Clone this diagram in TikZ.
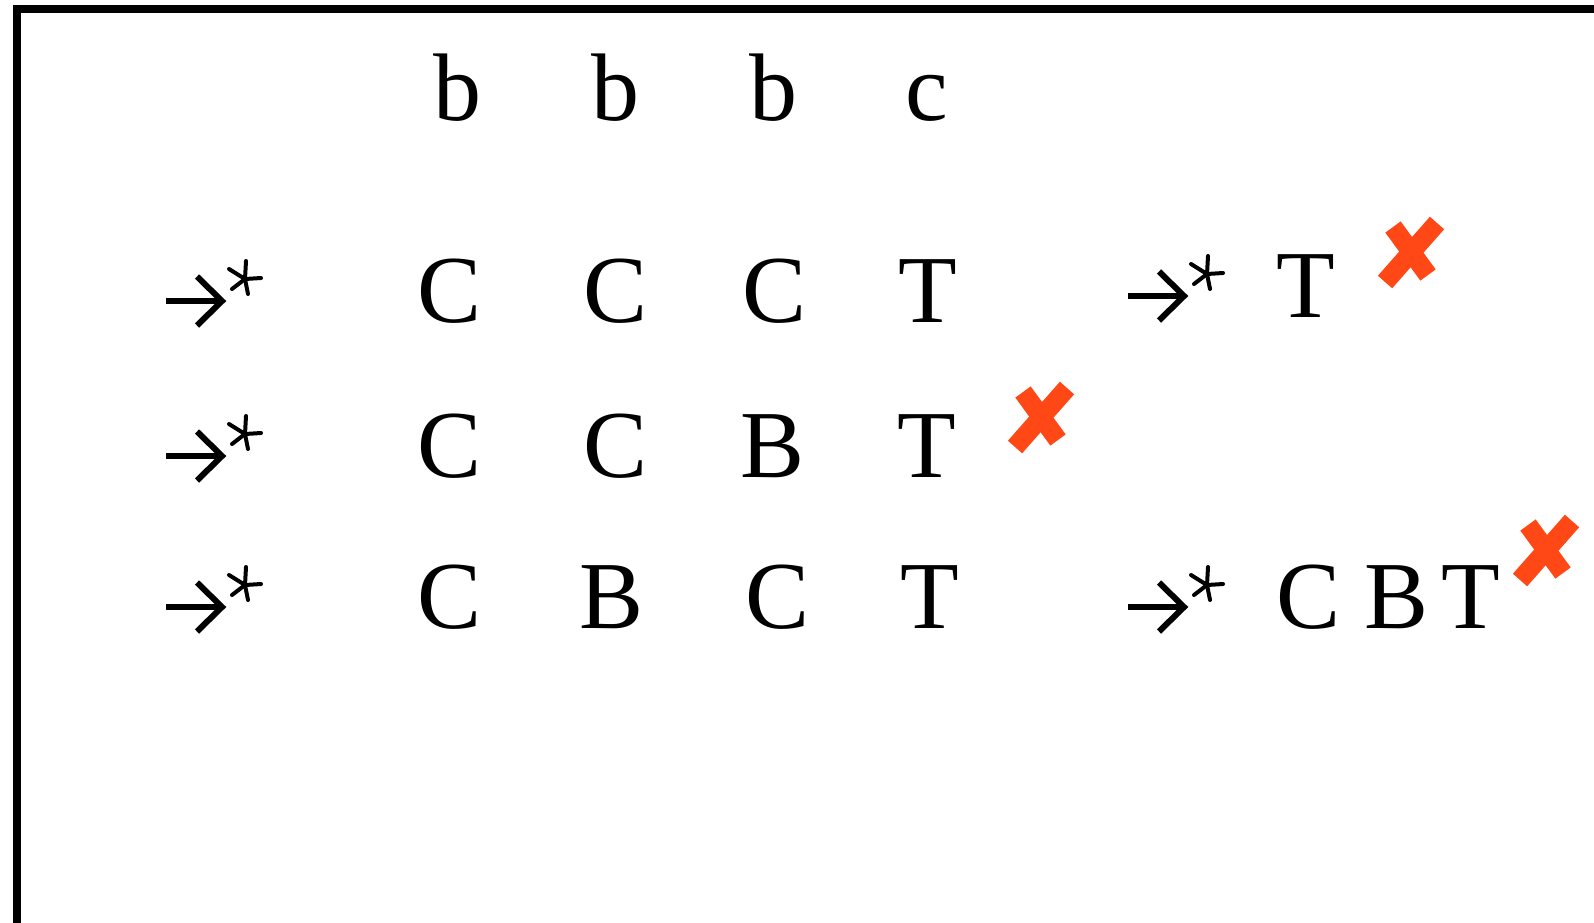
\documentclass[tikz,border=0pt]{standalone}
\usepackage{fontspec}
\setmainfont{Liberation Serif}
\definecolor{wrongred}{RGB}{255,72,22}
\tikzset{
  sym/.style={inner sep=0pt, anchor=base, font=\fontsize{96}{96}\selectfont},
  arrowline/.style={line width=6pt, line join=miter},
  starline/.style={line width=4pt, line cap=round},
  crossstroke/.style={line width=19pt, color=wrongred},
  derives/.pic={
    % arrow with open head
    \draw[arrowline] (0,0) -- (56,0);
    \draw[arrowline] (31,-24.5) -- (56,0) -- (31,24.5);
    % five-armed asterisk
    \coordinate (-star) at (79,-22);
    \draw[starline] (-star) -- ++(1,-18);
    \draw[starline] (-star) -- ++(-16,-10);
    \draw[starline] (-star) -- ++(16,-1);
    \draw[starline] (-star) -- ++(-13,10);
    \draw[starline] (-star) -- ++(3,15);
  },
  wrongmark/.pic={
    \draw[crossstroke] (25,-29) -- (-27,30);
    \draw[crossstroke] (-19,-25) -- (16,23);
  }
}
\begin{document}
\begin{tikzpicture}[x=1pt,y=-1pt]
\useasboundingbox (0,0) rectangle (1594,922);
\begin{scope}
  \clip (0,0) rectangle (1594,922);
  \draw[line width=7.5pt] (17,940) -- (17,9) -- (1610,9);
\end{scope}

% input word
\node[sym] (in1) at (457,120) {b};
\node[sym] (in2) at (615,120) {b};
\node[sym] (in3) at (773,120) {b};
\node[sym] (in4) at (927,120) {c};

% first derivation
\pic (d1) at (166,301) {derives};
\node[sym] (a1) at (450,322) {C};
\node[sym] (a2) at (616,322) {C};
\node[sym] (a3) at (775,322) {C};
\node[sym] (a4) at (928,322) {T};
\pic (e1) at (1128,296) {derives};
\node[sym] (a5) at (1306,317) {T};
\pic (x1) at (1412,252) {wrongmark};

% second derivation
\pic (d2) at (166,456) {derives};
\node[sym] (b1) at (450,477) {C};
\node[sym] (b2) at (616,477) {C};
\node[sym] (b3) at (773,477) {B};
\node[sym] (b4) at (927,477) {T};
\pic (x2) at (1042,417) {wrongmark};

% third derivation
\pic (d3) at (166,607) {derives};
\node[sym] (c1) at (450,628) {C};
\node[sym] (c2) at (612,628) {B};
\node[sym] (c3) at (778,628) {C};
\node[sym] (c4) at (930,628) {T};
\pic (e3) at (1128,607) {derives};
\node[sym] (c5) at (1308,628) {C};
\node[sym] (c6) at (1396,628) {B};
\node[sym] (c7) at (1471,628) {T};
\pic (x3) at (1547,550) {wrongmark};
\end{tikzpicture}
\end{document}
